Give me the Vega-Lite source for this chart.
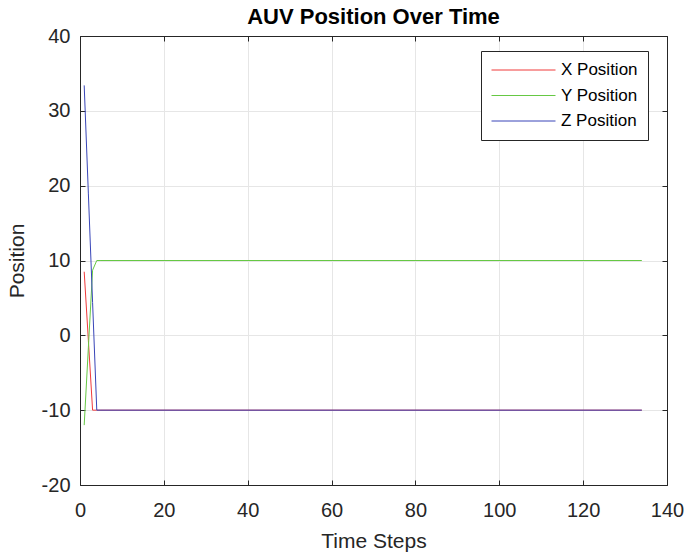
{
  "$schema": "https://vega.github.io/schema/vega-lite/v6.json",
  "autosize": "none",
  "width": 587,
  "height": 449,
  "padding": {"left": 80, "top": 36, "right": 19, "bottom": 74},
  "background": "white",
  "config": {
    "font": "Liberation Sans",
    "view": {"stroke": "#555555", "strokeWidth": 1}
  },
  "title": {"text": "AUV Position Over Time", "fontSize": 22, "fontWeight": "bold", "color": "#000000", "offset": -3, "anchor": "middle", "font": "Liberation Sans"},
  "data": {"values": [
    {"t": 1, "value": 8.5, "series": "X Position"},
    {"t": 2, "value": -0.7, "series": "X Position"},
    {"t": 3, "value": -10, "series": "X Position"},
    {"t": 4, "value": -10, "series": "X Position"},
    {"t": 5, "value": -10, "series": "X Position"},
    {"t": 134, "value": -10, "series": "X Position"},
    {"t": 1, "value": -12, "series": "Y Position"},
    {"t": 2, "value": -1.6, "series": "Y Position"},
    {"t": 3, "value": 8.7, "series": "Y Position"},
    {"t": 4, "value": 10, "series": "Y Position"},
    {"t": 5, "value": 10, "series": "Y Position"},
    {"t": 134, "value": 10, "series": "Y Position"},
    {"t": 1, "value": 33.4, "series": "Z Position"},
    {"t": 2, "value": 18.9, "series": "Z Position"},
    {"t": 3, "value": 4.4, "series": "Z Position"},
    {"t": 4, "value": -10, "series": "Z Position"},
    {"t": 5, "value": -10, "series": "Z Position"},
    {"t": 134, "value": -10, "series": "Z Position"}
  ]},
  "layer": [
    {
      "mark": {"type": "line", "strokeWidth": 1, "clip": true},
      "encoding": {
        "x": {"field": "t", "type": "quantitative",
          "scale": {"domain": [0, 140], "nice": false, "zero": false},
          "axis": {"orient": "bottom", "title": "Time Steps", "values": [0, 20, 40, 60, 80, 100, 120, 140],
            "grid": true, "gridColor": "#e6e6e6", "domain": true, "domainColor": "#262626", "labelFlush": false,
            "tickColor": "#262626", "tickSize": -5, "labelPadding": 20, "labelFontSize": 20, "labelColor": "#262626",
            "titleFontSize": 21, "titleFontWeight": "normal", "titleColor": "#262626", "titlePadding": 10, "labelFont": "Liberation Sans", "titleFont": "Liberation Sans"}},
        "y": {"field": "value", "type": "quantitative",
          "scale": {"domain": [-20, 40], "nice": false, "zero": false},
          "axis": {"orient": "left", "title": "Position", "values": [-20, -10, 0, 10, 20, 30, 40],
            "labelExpr": "datum.value < 0 ? '-' + abs(datum.value) : datum.label",
            "grid": true, "gridColor": "#e6e6e6", "domain": true, "domainColor": "#262626", "labelFlush": false,
            "tickColor": "#262626", "tickSize": -5, "labelPadding": 15, "labelFontSize": 20, "labelColor": "#262626",
            "titleFontSize": 21, "titleFontWeight": "normal", "titleColor": "#262626", "titlePadding": 14, "labelFont": "Liberation Sans", "titleFont": "Liberation Sans"}},
        "color": {"field": "series", "type": "nominal",
          "scale": {"domain": ["X Position", "Y Position", "Z Position"], "range": ["#f03a3a", "#66c844", "#3845b8"]},
          "legend": {"title": null, "orient": "none", "legendX": 401, "legendY": 15, "clipHeight": 18,
            "symbolType": "stroke", "symbolSize": 4096, "symbolStrokeWidth": 1, "labelFontSize": 17, "labelColor": "#000000",
            "labelFont": "Liberation Sans", "labelOffset": 5, "rowPadding": 7.5, "padding": 10,
            "strokeColor": "#262626", "fillColor": "white"}}
      }
    },
    {
      "mark": {"type": "line", "strokeOpacity": 0},
      "encoding": {
        "x": {"field": "t", "type": "quantitative",
          "scale": {"domain": [0, 140], "nice": false, "zero": false},
          "axis": {"orient": "top", "title": null, "labels": false, "grid": false, "values": [0, 20, 40, 60, 80, 100, 120, 140],
            "domainColor": "#262626", "tickColor": "#262626", "tickSize": -5}},
        "y": {"field": "value", "type": "quantitative",
          "scale": {"domain": [-20, 40], "nice": false, "zero": false},
          "axis": {"orient": "right", "title": null, "labels": false, "grid": false, "values": [-20, -10, 0, 10, 20, 30, 40],
            "domainColor": "#262626", "tickColor": "#262626", "tickSize": -5}}
      }
    }
  ],
  "resolve": {"axis": {"x": "independent", "y": "independent"}}
}
